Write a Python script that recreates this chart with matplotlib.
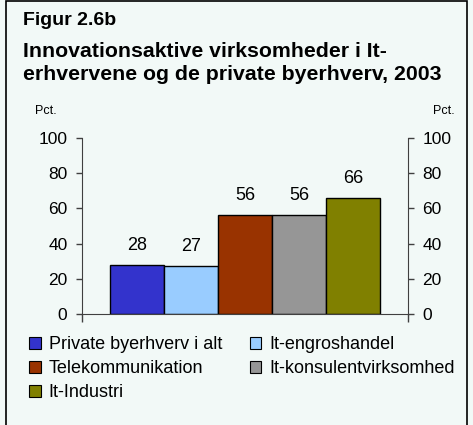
import matplotlib.pyplot as plt
from matplotlib.patches import Patch, Rectangle

plt.rcParams['font.family'] = ['Liberation Sans', 'DejaVu Sans']

# data
categories = ['Private byerhverv i alt', 'It-engroshandel', 'Telekommunikation',
              'It-konsulentvirksomhed', 'It-Industri']
values = [28, 27, 56, 56, 66]
colors = ['#3333CC', '#99CCFF', '#993300', '#969696', '#808000']
yticks = [0, 20, 40, 60, 80, 100]

W, H = 473, 425
bg = '#F2F9F7'
fig = plt.figure(figsize=(W / 100, H / 100), dpi=100, facecolor=bg)

# frame round the whole figure
fig.patches.append(Rectangle((6 / W, -0.01), 461 / W, 1.0 - 1 / H + 0.01,
                             transform=fig.transFigure, fill=False,
                             edgecolor='black', linewidth=1.2))

ax = fig.add_axes([82 / W, 1 - 314 / H, (408 - 82) / W, (314 - 138) / H])
ax.set_facecolor(bg)

x = list(range(len(values)))
bars = ax.bar(x, values, width=1.0, color=colors, edgecolor='black', linewidth=1)
for xi, v in zip(x, values):
    ax.annotate(str(v), (xi, v), xytext=(0, 8), textcoords='offset points',
                ha='center', va='bottom', fontsize=13)

ax.set_xlim(-1.02, len(values) - 1 + 1.02)
ax.set_ylim(0, 100)
ax.set_yticks(yticks)
ax.set_xticks([-1.02, len(values) - 1 + 1.02])
ax.set_xticklabels([])
ax.tick_params(axis='x', direction='out', length=6, color='#404040', width=1)
ax.tick_params(axis='y', direction='out', length=4.5, pad=6, labelsize=12.5,
               color='#404040', width=1, left=True, right=True,
               labelleft=True, labelright=True)
ax.spines['top'].set_visible(False)
for s in ['left', 'right', 'bottom']:
    ax.spines[s].set_color('#404040')

fig.text(46 / W, 1 - 114 / H, 'Pct.', fontsize=9, ha='center', va='baseline')
fig.text(444 / W, 1 - 114 / H, 'Pct.', fontsize=9, ha='center', va='baseline')

fig.text(23 / W, 1 - 25 / H, 'Figur 2.6b', fontsize=14, fontweight='bold', va='baseline')
fig.text(23 / W, 1 - 57 / H, 'Innovationsaktive virksomheder i It-', fontsize=15.3,
         fontweight='bold', va='baseline')
fig.text(23 / W, 1 - 80 / H, 'erhvervene og de private byerhverv, 2003', fontsize=15.3,
         fontweight='bold', va='baseline')

handles = [Patch(facecolor=c, edgecolor='black', linewidth=0.8) for c in colors]
order = [0, 2, 4, 1, 3]
fig.legend([handles[i] for i in order], [categories[i] for i in order],
           loc='upper left', bbox_to_anchor=(29 / W, 1 - 336 / H), ncol=2,
           frameon=False, fontsize=13, handlelength=0.65, handleheight=0.65,
           handletextpad=0.45, labelspacing=0.4, columnspacing=1.52, borderpad=0,
           borderaxespad=0)

fig.savefig('out.png', dpi=100, facecolor=bg)
